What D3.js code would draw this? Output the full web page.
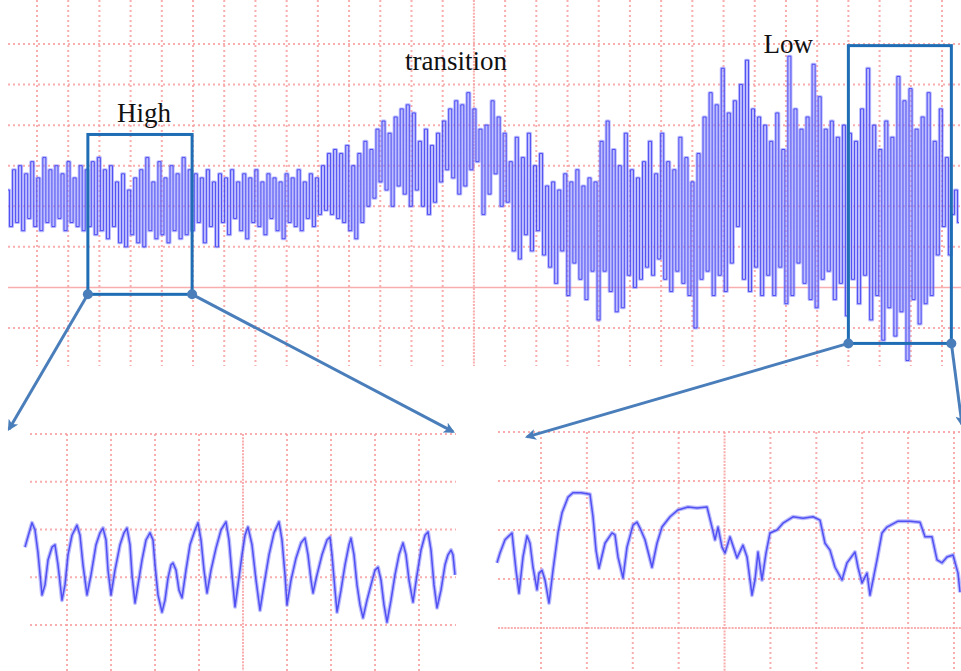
<!DOCTYPE html>
<html>
<head>
<meta charset="utf-8">
<script src="https://cdn.jsdelivr.net/npm/d3@7/dist/d3.min.js"></script>
<style>
  html, body { margin: 0; padding: 0; background: #fff; }
  svg { display: block; }
</style>
</head>
<body>
<svg id="chart" width="961" height="671"></svg>
<script>
// ---------------- DATA ----------------
// Top panel: full recording (grid units, 0 = solid reference line)
const topValues = [
  // lead-in
  2.4,1.5,2.9,1.6,3.0,1.4,2.8,1.7,3.1,1.5,2.7,1.4,3.2,1.6,2.9,1.5,3.0,1.7,2.8,1.4,3.1,1.6,2.7,1.5,3.0,1.4,2.9,
  // "High" window
  1.5,3.1,1.3,3.2,1.4,2.9,1.2,3.0,1.5,2.6,1.1,2.8,1.0,2.4,1.3,2.7,1.1,2.9,1.0,3.2,1.4,2.6,1.2,3.1,1.3,2.7,1.1,3.0,1.4,2.8,1.2,3.2,1.3,2.9,
  1.4,2.8,1.6,2.7,1.1,2.9,1.5,2.6,1.0,2.8,1.6,2.7,1.3,2.9,1.7,2.6,1.4,2.8,1.2,2.7,1.6,2.9,1.5,2.6,1.3,2.8,1.7,2.7,1.4,2.6,1.2,2.8,1.6,2.7,1.5,2.9,1.4,2.6,1.7,2.8,1.5,2.7,1.8,
  // transition
  3.0,1.9,3.3,1.8,3.4,1.7,3.3,1.6,3.5,1.4,
  3.0,1.2,3.3,1.6,3.6,2.0,3.4,2.2,3.9,2.6,4.1,2.4,3.8,2.0,4.2,2.5,4.4,2.3,4.5,2.0,4.3,2.4,
  3.6,2.0,3.9,1.8,3.5,2.1,3.8,2.6,4.1,2.9,4.4,2.7,4.6,2.3,4.5,2.5,4.8,2.9,4.4,3.1,
  3.9,1.8,4.0,2.3,4.6,2.8,4.2,2.0,3.8,2.1,
  3.1,0.9,3.7,0.7,3.2,1.3,3.8,0.9,3.0,1.4,3.3,0.8,2.5,0.5,2.6,0.1,2.4,0.9,2.8,-0.2,2.6,0.6,2.9,0.2,2.5,-0.3,2.7,0.4,2.6,-0.8,
  3.6,0.4,4.1,-0.1,3.4,-0.6,3.0,-0.5,3.8,0.3,2.9,0.0,2.7,0.2,
  // "Low"
  3.1,0.5,3.6,0.3,2.8,0.7,3.8,0.2,3.1,-0.1,2.9,0.4,3.7,0.1,3.2,-0.2,2.6,-1.0,3.3,0.2,
  4.2,0.4,4.8,-0.2,4.5,0.3,5.4,-0.1,4.3,0.6,4.6,1.5,5.0,0.2,5.6,-0.1,4.4,0.5,4.2,-0.2,
  4.0,0.3,3.6,-0.2,4.3,0.5,3.4,-0.4,5.7,-0.2,4.4,0.6,3.9,0.1,4.2,-0.3,5.5,-0.5,4.7,0.2,3.9,0.4,4.1,-0.3,3.7,0.1,4.0,-0.7,3.8,
  0.2,3.6,-0.4,4.4,0.3,5.4,-0.8,4.0,-0.2,3.4,-1.3,4.1,-0.5,3.7,-1.2,5.2,-0.6,4.6,-1.8,4.9,-0.3,3.9,-0.9,4.2,-0.4,4.8,-0.2,3.6,0.8,4.4,1.5,3.2,0.8,
  1.8,2.4,1.6
];

// Bottom-left zoom ("High"): sample times and values (grid units)
const highT = [0,2,7,10,13,17,20,23,27,30,33,37,40,43,47,52,55,58,62,66,71,75,78,81,83,86,90,95,99,102,105,107,110,113,117,121,125,128,130,133,137,140,143,146,148,151,154,157,161,165,170,173,176,179,182,186,191,196,201,204,207,210,213,217,220,223,227,231,235,239,244,249,254,257,260,262,266,271,276,280,283,286,288,292,297,302,305,307,310,312,316,320,324,326,329,332,335,338,342,346,350,353,356,359,362,366,370,374,378,381,384,388,392,396,400,403,406,409,412,416,420,423,426,428,430];
const highV = [1.63,1.78,2.14,1.99,1.51,0.63,0.84,1.36,1.63,1.68,1.26,0.52,0.84,1.47,1.88,2.09,1.88,1.26,0.63,1.05,1.68,1.93,2.03,1.78,1.15,0.63,1.15,1.68,1.93,2.03,1.68,1.05,0.46,0.84,1.36,1.78,1.93,1.78,1.26,0.63,0.27,0.52,0.98,1.26,1.30,1.15,0.73,0.57,1.15,1.68,1.99,2.14,1.78,1.15,0.67,1.15,1.61,1.99,2.16,1.78,1.05,0.38,0.84,1.47,1.88,2.05,1.68,0.94,0.31,0.84,1.47,1.93,2.16,1.78,1.05,0.42,0.94,1.40,1.72,1.82,1.47,0.94,0.67,1.05,1.47,1.78,1.84,1.47,0.73,0.27,0.73,1.26,1.68,1.82,1.47,0.84,0.42,0.15,0.52,0.84,1.15,1.21,0.94,0.42,0.06,0.52,1.05,1.47,1.72,1.47,0.94,0.48,1.05,1.57,1.88,1.95,1.57,0.84,0.36,0.73,1.26,1.47,1.57,1.47,1.05];

// Bottom-right zoom ("Low"): sample times and values (grid units)
const lowT = [0,3,8,15,19,22,26,30,33,36,40,42,45,48,52,56,61,65,71,76,84,93,96,99,102,108,115,118,121,126,130,136,140,143,148,155,160,165,173,181,191,200,210,214,218,221,225,228,233,240,246,250,255,258,261,265,269,273,280,286,296,306,316,323,328,333,338,345,350,358,361,365,370,373,380,385,390,401,413,423,428,435,440,445,450,456,461,463];
const lowV = [1.33,1.53,1.80,1.94,1.18,0.71,1.45,1.88,1.73,1.24,0.78,1.12,1.18,0.98,0.51,1.18,1.94,2.35,2.67,2.76,2.76,2.73,2.27,1.59,1.22,1.73,1.94,1.90,1.45,1.02,1.65,2.10,2.16,2.04,1.80,1.24,1.73,2.06,2.27,2.41,2.47,2.45,2.47,2.14,1.80,2.06,1.65,1.53,1.86,1.43,1.69,1.45,0.67,0.98,1.55,0.98,1.53,1.94,2.00,2.14,2.27,2.24,2.27,2.20,1.73,1.59,1.24,0.98,1.33,1.55,1.24,0.92,1.12,0.67,1.39,1.94,2.06,2.18,2.18,2.16,1.86,1.86,1.39,1.33,1.45,1.49,1.12,0.73];

// Grid tick values
const topGridCols = d3.range(0, 30);      // 30 columns
const topGridRows = d3.range(-1, 7);      // -1 .. 6
const highGridCols = d3.range(0, 9);
const highGridRows = d3.range(0, 5);
const lowGridCols = d3.range(0, 10);
const lowGridRows = d3.range(0, 5);

// Annotations (in top-panel grid units)
const labels = [
  { text: "High", gx: 3.43, v: 4.07 },
  { text: "transition", gx: 13.43, v: 5.35 },
  { text: "Low", gx: 24.07, v: 5.77 }
];
const highBox = { gx0: 1.63, gx1: 4.97, v0: 3.77, v1: -0.17 };
const lowBox  = { gx0: 26.0, gx1: 29.3, v0: 5.96, v1: -1.38 };

// ---------------- SCALES ----------------
const svg = d3.select("#chart");

const topX  = d3.scaleLinear().domain([0, topValues.length - 1]).range([8, 959]);
const topGX = d3.scaleLinear().domain([0, 29]).range([37, 942]);
const topY  = d3.scaleLinear().domain([-1, 6]).range([328, 44]);

const hX  = d3.scaleLinear().domain([0, 430]).range([25, 455]);
const hGX = d3.scaleLinear().domain([0, 8]).range([67, 419]);
const hY  = d3.scaleLinear().domain([0, 4]).range([625, 434]);

const lX  = d3.scaleLinear().domain([0, 463]).range([497, 960]);
const lGX = d3.scaleLinear().domain([0, 9]).range([541, 954]);
const lY  = d3.scaleLinear().domain([0, 4]).range([628, 432]);

// ---------------- GRIDS ----------------
const gridCol = "#f7a0a0";
function grid(g, cols, rows, gx, gy, xr, yr, solidCol, solidRow, solidRowFull) {
  g.selectAll(".h").data(rows).join("line")
    .attr("x1", xr[0]).attr("x2", xr[1])
    .attr("y1", d => gy(d)).attr("y2", d => gy(d))
    .attr("stroke", gridCol)
    .attr("stroke-width", d => d === solidRow && solidRowFull ? 1.5 : 2)
    .attr("stroke-dasharray", d => d === solidRow ? (solidRowFull ? null : "2,1.2") : "2,3")
    .attr("opacity", d => d === solidRow && solidRowFull ? 0.85 : 0.85);
  g.selectAll(".v").data(cols).join("line")
    .attr("y1", yr[0]).attr("y2", yr[1])
    .attr("x1", d => gx(d)).attr("x2", d => gx(d))
    .attr("stroke", gridCol)
    .attr("stroke-width", 2)
    .attr("stroke-dasharray", d => d === solidCol ? "2,1.2" : "2,3")
    .attr("opacity", 0.85);
}
grid(svg.append("g"), topGridCols, topGridRows, topGX, topY, [8, 961], [0, 366], 14, 0, true);
grid(svg.append("g"), highGridCols, highGridRows, hGX, hY, [30, 456], [434, 671], 4, -99, false);
grid(svg.append("g"), lowGridCols, lowGridRows, lGX, lY, [498, 961], [432, 671], 4, 0, false);

// ---------------- TRACES ----------------
function trace(g, pts, halo, core, curve) {
  const line = d3.line().x(d => d[0]).y(d => d[1]).curve(curve);
  g.append("path").attr("d", line(pts)).attr("fill", "none")
    .attr("stroke", "#8f8ffb").attr("stroke-width", halo).attr("opacity", 0.6)
    .attr("stroke-linejoin", "round");
  g.append("path").attr("d", line(pts)).attr("fill", "none")
    .attr("stroke", "#3535f0").attr("stroke-width", core).attr("opacity", 0.8)
    .attr("stroke-linejoin", "round");
}
trace(svg.append("g"), topValues.map((v, i) => [topX(i), topY(v)]), 3.0, 1.0, d3.curveStep);
trace(svg.append("g"), highT.map((t, i) => [hX(t), hY(highV[i])]), 4, 1.5, d3.curveLinear);
trace(svg.append("g"), lowT.map((t, i) => [lX(t), lY(lowV[i])]), 4, 1.5, d3.curveLinear);

// ---------------- ANNOTATIONS ----------------
const boxCol = "#1f6eb5", linkCol = "#4a7ebb";
const defs = svg.append("defs");
defs.append("marker").attr("id", "arr")
  .attr("viewBox", "0 0 10 10").attr("refX", 8).attr("refY", 5)
  .attr("markerWidth", 13).attr("markerHeight", 11)
  .attr("markerUnits", "userSpaceOnUse").attr("orient", "auto")
  .append("path").attr("d", "M0,0 L10,5 L0,10 L2.5,5 z").attr("fill", linkCol);

const ann = svg.append("g");
[highBox, lowBox].forEach(b => {
  ann.append("rect")
    .attr("x", topGX(b.gx0)).attr("y", topY(b.v0))
    .attr("width", topGX(b.gx1) - topGX(b.gx0))
    .attr("height", topY(b.v1) - topY(b.v0))
    .attr("fill", "none").attr("stroke", boxCol).attr("stroke-width", 3);
});

const links = [
  { from: [topGX(highBox.gx0), topY(highBox.v1)], to: [hX(-16), hY(4.1)] },
  { from: [topGX(highBox.gx1), topY(highBox.v1)], to: [hX(428), hY(4.05)] },
  { from: [topGX(lowBox.gx0), topY(lowBox.v1)], to: [lX(30), lY(3.9)] },
  { from: [topGX(lowBox.gx1), topY(lowBox.v1)], to: [lX(465), lY(4.15)] }
];
links.forEach(l => {
  ann.append("line")
    .attr("x1", l.from[0]).attr("y1", l.from[1])
    .attr("x2", l.to[0]).attr("y2", l.to[1])
    .attr("stroke", linkCol).attr("stroke-width", 3)
    .attr("marker-end", "url(#arr)");
  ann.append("circle").attr("cx", l.from[0]).attr("cy", l.from[1])
    .attr("r", 5).attr("fill", linkCol);
});

svg.append("g").selectAll("text").data(labels).join("text")
  .attr("x", d => topGX(d.gx)).attr("y", d => topY(d.v))
  .attr("text-anchor", "middle")
  .attr("font-family", "'Liberation Serif', 'Times New Roman', serif")
  .attr("font-size", 27).attr("fill", "#111")
  .text(d => d.text);
</script>
</body>
</html>
